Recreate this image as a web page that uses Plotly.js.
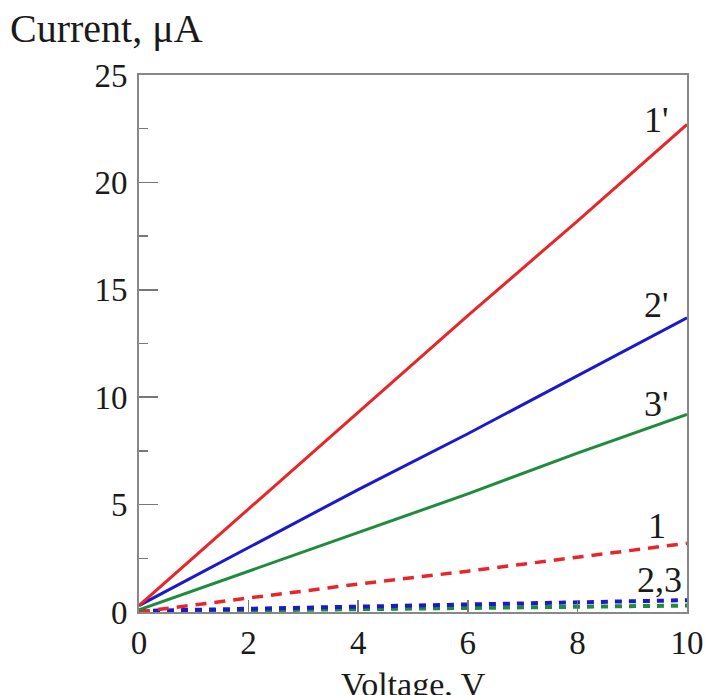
<!DOCTYPE html>
<html><head><meta charset="utf-8">
<script src="https://cdn.plot.ly/plotly-3.0.1.min.js"></script>
<style>html,body{margin:0;padding:0;background:#fff;}#chart{width:705px;height:695px;}</style>
</head><body><div id="chart"></div>
<script>
const voltage = [0, 2, 4, 6, 8, 10];
const curve1p = [0.3, 4.8, 9.3, 13.8, 18.2, 22.7];
const curve2p = [0.3, 3.0, 5.7, 8.3, 11.0, 13.7];
const curve3p = [0.1, 1.9, 3.7, 5.5, 7.4, 9.2];
const curve1 = [0.0, 0.65, 1.3, 1.9, 2.55, 3.2];
const curve2 = [0.05, 0.15, 0.25, 0.35, 0.45, 0.55];
const curve3 = [0.02, 0.08, 0.14, 0.2, 0.25, 0.3];
const labels = ["1'", "2'", "3'", "1", "2,3"];
const labelY = [22.9, 14.3, 9.7, 4.0, 1.5];
const xTicks = [0, 2, 4, 6, 8, 10];
const yTicks = [0, 5, 10, 15, 20, 25];

const RED = '#e8262a', BLUE = '#1a1acc', GREEN = '#1e8c3a';
const FAM = 'Liberation Serif, Times New Roman, serif';
const tickFont = {family: FAM, size: 33, color: '#1a1a1a'};
const labelFont = {family: FAM, size: 36, color: '#1a1a1a'};

const traces = [
  {x: voltage, y: curve3, mode: 'lines', line: {color: GREEN, width: 4, dash: '7px,7px'}},
  {x: voltage, y: curve2, mode: 'lines', line: {color: BLUE, width: 4, dash: '7px,7px'}},
  {x: voltage, y: curve1, mode: 'lines', line: {color: RED, width: 3.5, dash: '11px,8px'}},
  {x: voltage, y: curve3p, mode: 'lines', line: {color: GREEN, width: 3}},
  {x: voltage, y: curve2p, mode: 'lines', line: {color: BLUE, width: 3}},
  {x: voltage, y: curve1p, mode: 'lines', line: {color: RED, width: 3}}
];

const labelX = [9.7, 9.7, 9.7, 9.65, 9.95];
const annotations = labels.map((t, i) => ({
  x: labelX[i], y: labelY[i], xref: 'x', yref: 'y', text: t, showarrow: false,
  xanchor: 'right', yanchor: 'middle', font: labelFont
}));
annotations.push({x: 0, y: 1, xref: 'paper', yref: 'paper', xshift: -131, yshift: 22,
  text: 'Current, \u03bcA', showarrow: false, xanchor: 'left', yanchor: 'bottom',
  font: {family: FAM, size: 40, color: '#1a1a1a'}});
annotations.push({x: 0.5, y: 0, xref: 'paper', yref: 'paper', xshift: 0, yshift: -52,
  text: 'Voltage, V', showarrow: false, xanchor: 'center', yanchor: 'top',
  font: {family: FAM, size: 34, color: '#1a1a1a'}});

const layout = {
  width: 705, height: 695,
  margin: {l: 139, r: 18, t: 75, b: 83},
  paper_bgcolor: '#fff', plot_bgcolor: '#fff',
  showlegend: false,
  font: tickFont,
  xaxis: {range: [0, 10], tickvals: xTicks, ticks: 'inside', ticklen: 12, tickwidth: 1.5, tickcolor: '#777',
    showline: true, linecolor: '#888', linewidth: 2, mirror: true, showgrid: false, zeroline: false,
    tickfont: tickFont},
  yaxis: {range: [0, 25], tickvals: yTicks, ticks: 'inside', ticklen: 19, tickwidth: 1.5, tickcolor: '#777',
    showline: true, linecolor: '#888', linewidth: 2, mirror: true, showgrid: false, zeroline: false,
    tickfont: tickFont, ticklabelstandoff: 3,
    minor: {dtick: 2.5, ticks: 'inside', ticklen: 9, tickwidth: 1.5, tickcolor: '#777'}},
  annotations: annotations
};
Plotly.newPlot('chart', traces, layout, {displayModeBar: false, staticPlot: true});
</script></body></html>
